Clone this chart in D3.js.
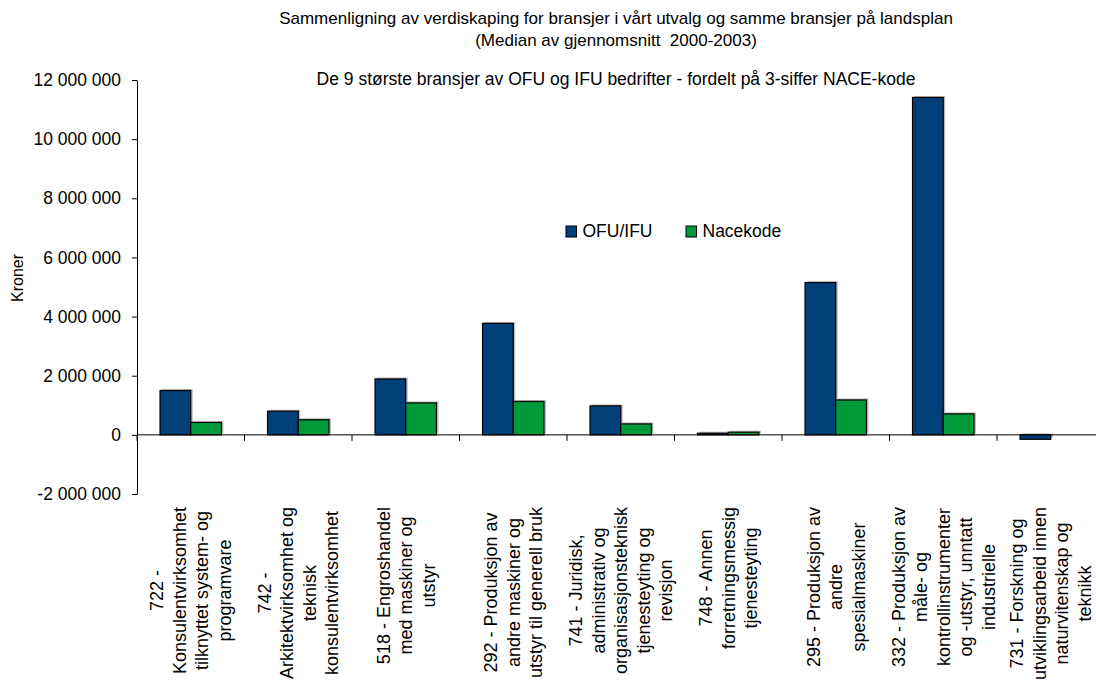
<!DOCTYPE html>
<html>
<head>
<meta charset="utf-8">
<script src="https://cdn.jsdelivr.net/npm/d3@7"></script>
<style>
  html, body { margin: 0; padding: 0; background: #fff; }
  svg { display: block; font-family: "Liberation Sans", Arial, sans-serif; }
  .title { white-space: pre; }
</style>
</head>
<body>
<svg id="chart" width="1096" height="680"></svg>
<script>
// Industry categories (3-digit NACE codes), one array of label lines each
const categories = [
  ["722 -", "Konsulentvirksomhet", "tilknyttet system- og", "programvare"],
  ["742 -", "Arkitektvirksomhet og", "teknisk", "konsulentvirksomhet"],
  ["518 - Engroshandel", "med maskiner og", "utstyr"],
  ["292 - Produksjon av", "andre maskiner og", "utstyr til generell bruk"],
  ["741 - Juridisk,", "administrativ og", "organisasjonsteknisk", "tjenesteyting og", "revisjon"],
  ["748 - Annen", "forretningsmessig", "tjenesteyting"],
  ["295 - Produksjon av", "andre", "spesialmaskiner"],
  ["332 - Produksjon av", "måle- og", "kontrollinstrumenter", "og -utstyr, unntatt", "industrielle"],
  ["731 - Forskning og", "utviklingsarbeid innen", "naturvitenskap og", "teknikk"]
];

const seriesNames = ["OFU/IFU", "Nacekode"];
const seriesColors = ["#003f78", "#009a3a"];

// Value creation in kroner (median of 2000-2003 averages)
const ofuIfu   = [1500000, 800000, 1890000, 3770000, 980000, 55000, 5150000, 11410000, -150000];
const nacekode = [420000, 510000, 1080000, 1130000, 370000, 90000, 1180000, 710000, null];

const yTicks = [-2000000, 0, 2000000, 4000000, 6000000, 8000000, 10000000, 12000000];

const titleLines = [
  "Sammenligning av verdiskaping for bransjer i vårt utvalg og samme bransjer på landsplan",
  "(Median av gjennomsnitt  2000-2003)"
];
const subTitle = "De 9 største bransjer av OFU og IFU bedrifter - fordelt på 3-siffer NACE-kode";
const yTitle = "Kroner";

const svg = d3.select("#chart");

const plot = { left: 137, right: 1104.5, top: 80, bottom: 494 };

const x = d3.scaleBand()
  .domain(d3.range(categories.length))
  .range([plot.left, plot.right])
  .paddingInner(0).paddingOuter(0);

const xs = d3.scaleBand()
  .domain(d3.range(seriesNames.length))
  .range([0, x.bandwidth()])
  .paddingInner(0).paddingOuter(0.75);

const y = d3.scaleLinear()
  .domain([-2000000, 12000000])
  .range([plot.bottom, plot.top]);

// space-grouped thousands, plain hyphen for negatives
const fmt = v => (v < 0 ? "-" : "") + d3.format(",")(Math.abs(v)).replace(/,/g, " ");

// Titles
svg.append("g").selectAll("text")
  .data(titleLines)
  .join("text")
  .attr("class", "title")
  .attr("x", 616)
  .attr("y", (d, i) => 24 + i * 22)
  .attr("text-anchor", "middle")
  .attr("font-size", 17)
  .attr("fill", "#000")
  .text(d => d);

svg.append("text")
  .attr("x", 616)
  .attr("y", 85)
  .attr("text-anchor", "middle")
  .attr("font-size", 17.5)
  .attr("fill", "#000")
  .text(subTitle);

// Bars
const rows = categories.map((c, i) => ({ i, values: [ofuIfu[i], nacekode[i]] }));
const barData = rows.flatMap(r => r.values.map((v, s) => ({ i: r.i, s, v })))
  .filter(d => d.v !== null);

const bars = svg.append("g");
// soft drop shadow behind each bar
bars.selectAll("rect.shadow")
  .data(barData)
  .join("rect")
  .attr("class", "shadow")
  .attr("x", d => x(d.i) + xs(d.s) + 2)
  .attr("y", d => Math.min(y(d.v), y(0)) - 1.5)
  .attr("width", xs.bandwidth())
  .attr("height", d => Math.abs(y(d.v) - y(0)))
  .attr("fill", "#bdbdbd");

bars.selectAll("rect.bar")
  .data(barData)
  .join("rect")
  .attr("class", "bar")
  .attr("x", d => x(d.i) + xs(d.s))
  .attr("y", d => Math.min(y(d.v), y(0)))
  .attr("width", xs.bandwidth())
  .attr("height", d => Math.abs(y(d.v) - y(0)))
  .attr("fill", d => seriesColors[d.s])
  .attr("stroke", "#000")
  .attr("stroke-width", 1.2);

// Y axis
const yAxis = svg.append("g")
  .attr("transform", `translate(${plot.left},0)`)
  .call(d3.axisLeft(y).tickValues(yTicks).tickFormat(fmt).tickSize(5).tickPadding(11).tickSizeOuter(0));
yAxis.select(".domain").attr("stroke", "#000");
yAxis.selectAll(".tick line").attr("stroke", "#000");
yAxis.selectAll(".tick text")
  .attr("font-size", 17.5)
  .attr("font-family", "Liberation Sans, Arial, sans-serif")
  .attr("fill", "#000");

// X axis on the zero line, ticks between categories
const xAxisG = svg.append("g");
xAxisG.append("line")
  .attr("x1", plot.left).attr("x2", plot.right)
  .attr("y1", y(0)).attr("y2", y(0))
  .attr("stroke", "#000");
xAxisG.selectAll("line.tick")
  .data(d3.range(categories.length + 1))
  .join("line")
  .attr("class", "tick")
  .attr("x1", i => i < categories.length ? x(i) : plot.right)
  .attr("x2", i => i < categories.length ? x(i) : plot.right)
  .attr("y1", y(0)).attr("y2", y(0) + 6)
  .attr("stroke", "#000");

// Rotated, multi-line category labels, top-aligned under the axis
const labelTop = 507;
const lineGap = 22.5;
const labels = svg.append("g");
categories.forEach((lines, i) => {
  const g = labels.append("g");
  const texts = g.selectAll("text")
    .data(lines)
    .join("text")
    .attr("x", 0)
    .attr("y", (d, k) => (k - (lines.length - 1) / 2) * lineGap)
    .attr("dy", "0.35em")
    .attr("text-anchor", "middle")
    .attr("font-size", 18)
    .attr("fill", "#000")
    .text(d => d);
  const maxW = d3.max(texts.nodes(), n => n.getComputedTextLength());
  const cx = x(i) + x.bandwidth() / 2;
  g.attr("transform", `translate(${cx},${labelTop + maxW / 2}) rotate(-90)`);
});

// Y axis title
svg.append("text")
  .attr("transform", "translate(17,278) rotate(-90)")
  .attr("text-anchor", "middle")
  .attr("dy", "0.35em")
  .attr("font-size", 16)
  .attr("fill", "#000")
  .text(yTitle);

// Legend
const legend = svg.append("g").attr("transform", "translate(566,226)");
const legendX = [0, 120];
seriesNames.forEach((name, s) => {
  const lg = legend.append("g").attr("transform", `translate(${legendX[s]},0)`);
  lg.append("rect")
    .attr("width", 10.5).attr("height", 11)
    .attr("fill", seriesColors[s])
    .attr("stroke", "#000").attr("stroke-width", 1);
  lg.append("text")
    .attr("x", 16.5).attr("y", 11.3)
    .attr("font-size", 17.5)
    .attr("fill", "#000")
    .text(name);
});
</script>
</body>
</html>
